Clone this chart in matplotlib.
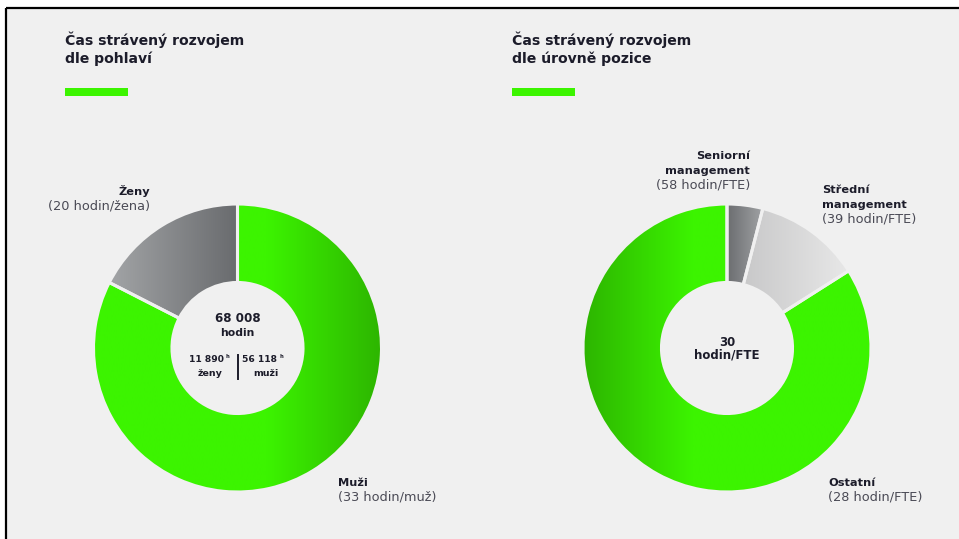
import matplotlib
matplotlib.use("Agg")
import matplotlib.pyplot as plt
import numpy as np
from matplotlib.colors import LinearSegmentedColormap
from matplotlib.patches import Rectangle

# ---- data ----
gender_labels = ["Ženy", "Muži"]
gender_hours = [11890, 56118]
gender_sub = ["(20 hodin/žena)", "(33 hodin/muž)"]
total_hours = "68 008"

level_labels = ["Seniorní\nmanagement", "Střední\nmanagement", "Ostatní"]
level_share = [4, 12, 84]
level_sub = ["(58 hodin/FTE)", "(39 hodin/FTE)", "(28 hodin/FTE)"]
avg_fte = "30"

titles = ["Čas strávený rozvojem\ndle pohlaví", "Čas strávený rozvojem\ndle úrovně pozice"]

W, H = 959, 539
BG = "#f0f0f0"
GREEN = "#3cf400"
DARK = "#1c1c2a"
SUB = "#4a4a55"
FONT = "DejaVu Sans"

fig = plt.figure(figsize=(W / 100, H / 100), dpi=100, facecolor="white")
ax = fig.add_axes([0, 0, 1, 1])
ax.set_xlim(0, W)
ax.set_ylim(0, H)
ax.set_aspect("equal")
ax.axis("off")

def Y(y):
    return H - y

# panel with top/left frame
ax.add_patch(Rectangle((6, 0), W, Y(8), facecolor=BG, edgecolor="none", zorder=0))
ax.plot([6, W], [Y(8), Y(8)], color="black", lw=1.6, zorder=1, solid_capstyle="butt")
ax.plot([6, 6], [Y(8), 0], color="black", lw=1.6, zorder=1, solid_capstyle="butt")

R = 144
WIDTH = 0.545

def gradient_fill(wedge, x0, x1, stops):
    cmap = LinearSegmentedColormap.from_list("g", stops)
    grad = np.linspace(0, 1, 256).reshape(1, -1)
    im = ax.imshow(grad, cmap=cmap, extent=[x0, x1, 0, H], aspect="auto",
                   zorder=2, interpolation="bilinear")
    im.set_clip_path(wedge)
    ax.set_xlim(0, W)
    ax.set_ylim(0, H)

def donut(values, center, startangle, counterclock, fills):
    wedges, _ = ax.pie(values, center=center, radius=R, startangle=startangle,
                       counterclock=counterclock,
                       wedgeprops=dict(width=R * WIDTH, facecolor="none",
                                       edgecolor=BG, linewidth=2.2),
                       frame=True)
    for w, (x0, x1, stops) in zip(wedges, fills):
        w.set_zorder(3)
        gradient_fill(w, x0, x1, stops)
    ax.set_xlim(0, W)
    ax.set_ylim(0, H)
    ax.set_aspect("equal")
    ax.axis("off")
    return wedges

# left donut
cL = (237.5, Y(348))
donut(gender_hours, cL, 90, True, [
    (110, 238, [(0, "#a2a4a6"), (1, "#696b6e")]),
    (93, 382, [(0, GREEN), (0.6, GREEN), (1, "#2db500")]),
])

# right donut
cR = (727, Y(348))
donut(level_share, cR, 90, False, [
    (727, 763, [(0, "#6b6d70"), (1, "#a0a2a4")]),
    (728, 850, [(0, "#c4c4c5"), (1, "#e8e8e8")]),
    (583, 871, [(0, "#2db500"), (0.38, GREEN), (1, GREEN)]),
])

# titles and bars
for x, t in zip([65, 512], titles):
    ax.text(x, Y(31), t, fontsize=10.1, fontweight="bold", family=FONT, color=DARK,
            ha="left", va="top", linespacing=1.35)
    ax.add_patch(Rectangle((x, Y(95.5)), 63, 8, facecolor=GREEN, edgecolor="none", zorder=4))

def label(x, y, head, sub, ha):
    ax.text(x, Y(y), head, fontsize=8.2, fontweight="bold", family=FONT, color=DARK,
            ha=ha, va="bottom", linespacing=1.65, zorder=5)
    ax.text(x, Y(y) - 2.5, sub, fontsize=9.3, family=FONT, color=SUB,
            ha=ha, va="top", zorder=5)

label(150, 197, gender_labels[0], gender_sub[0], "right")
label(338, 488, gender_labels[1], gender_sub[1], "left")
label(750, 176, level_labels[0], level_sub[0], "right")
label(822, 210, level_labels[1], level_sub[1], "left")
label(828, 488, level_labels[2], level_sub[2], "left")

# left center text
ax.text(cL[0], Y(319), total_hours, fontsize=8.6, fontweight="bold", family=FONT,
        color=DARK, ha="center", va="center", zorder=5)
ax.text(cL[0], Y(333), "hodin", fontsize=7.8, fontweight="bold", family=FONT,
        color=DARK, ha="center", va="center", zorder=5)
ax.plot([238, 238], [Y(355), Y(379)], color=DARK, lw=1.4, zorder=5)
def num(x, y, s):
    ax.text(x, Y(y), s, fontsize=6.6, fontweight="bold", family=FONT, color=DARK,
            ha="right", va="center", zorder=5)
    ax.text(x + 2, Y(y) + 3, "h", fontsize=3.8, fontweight="bold", family=FONT,
            color=DARK, ha="left", va="center", zorder=5)
num(224, 360, f"{gender_hours[0]:,}".replace(",", " "))
num(277, 360, f"{gender_hours[1]:,}".replace(",", " "))
ax.text(210, Y(374), "ženy", fontsize=6.8, fontweight="bold", family=FONT, color=DARK,
        ha="center", va="center", zorder=5)
ax.text(266, Y(374), "muži", fontsize=6.8, fontweight="bold", family=FONT, color=DARK,
        ha="center", va="center", zorder=5)

# right center text
ax.text(cR[0], Y(342), avg_fte, fontsize=8.5, fontweight="bold", family=FONT,
        color=DARK, ha="center", va="center", zorder=5)
ax.text(cR[0], Y(355), "hodin/FTE", fontsize=8.5, fontweight="bold", family=FONT,
        color=DARK, ha="center", va="center", zorder=5)

fig.savefig("out.png", dpi=100, facecolor="white")
